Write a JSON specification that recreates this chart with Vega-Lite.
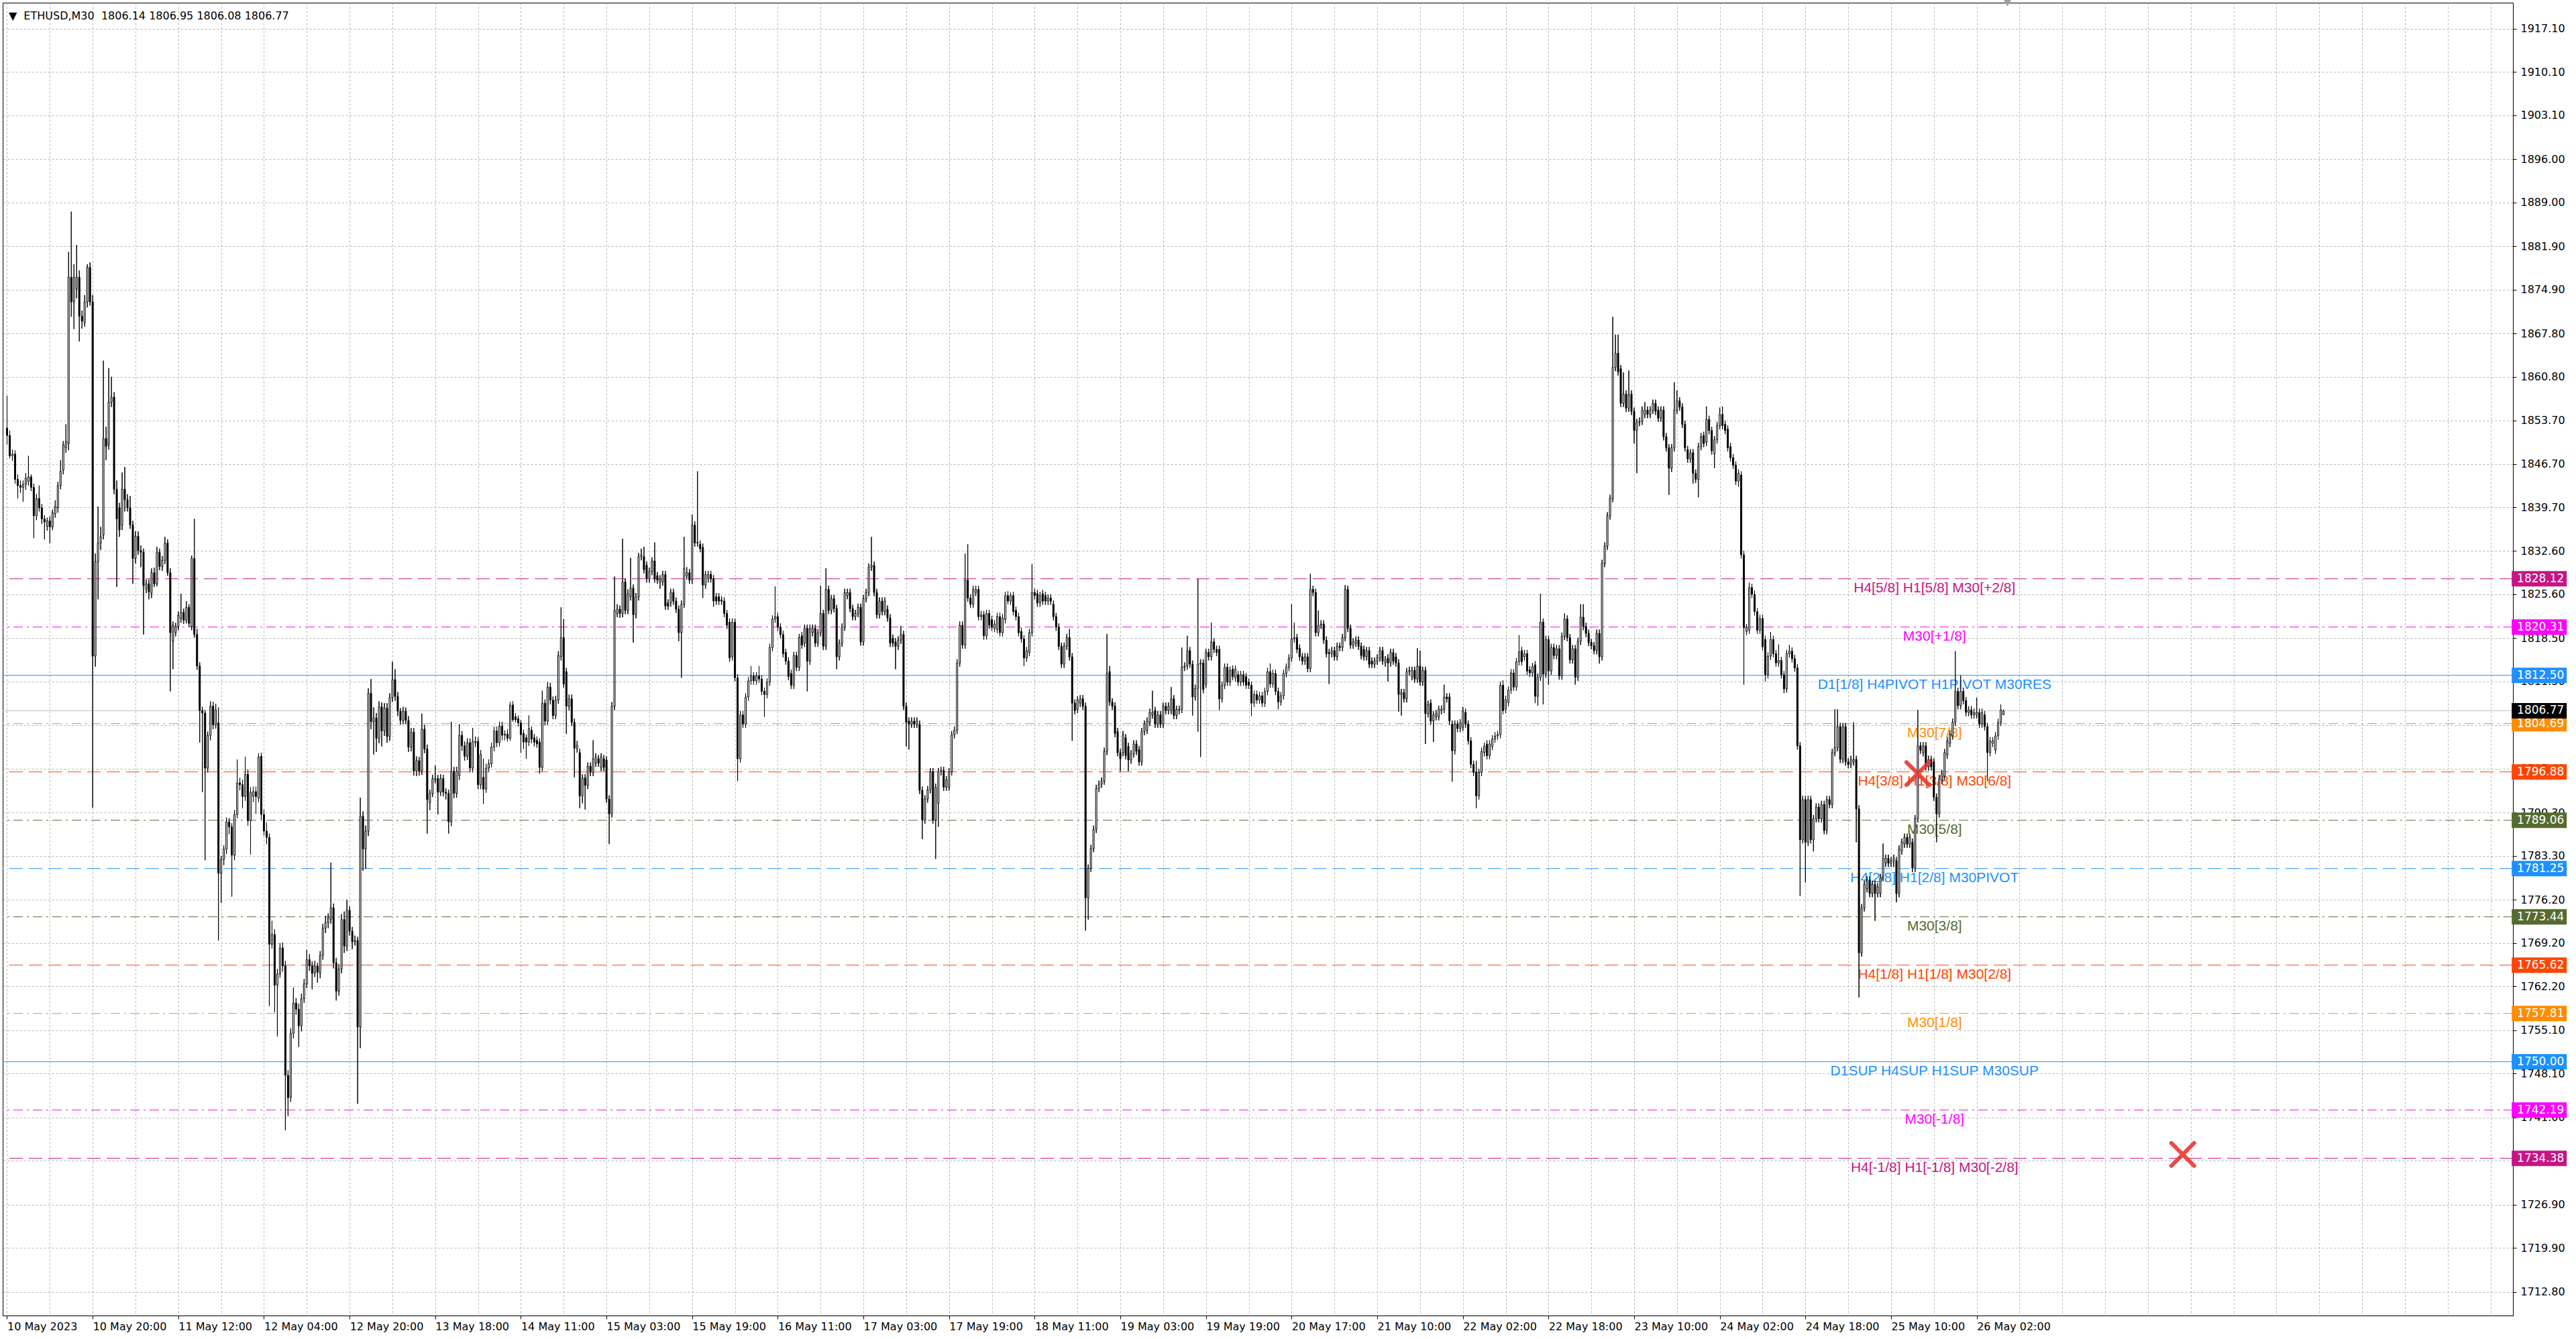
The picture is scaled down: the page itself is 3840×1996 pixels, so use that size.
{
"$schema":"https://vega.github.io/schema/vega-lite/v6.json",
"width":3742,"height":1957,
"autosize":{"type":"none"},
"padding":{"left":4,"top":4,"right":94,"bottom":35},
"background":"white",
"config":{"view":{"stroke":"black","strokeWidth":1},"font":"DejaVu Sans"},
"datasets":{
"bars":[
{"i":0,"o":1852.5,"h":1857.7,"l":1849.8,"c":1851.3},
{"i":1,"o":1851.3,"h":1852.1,"l":1847.6,"c":1848.0},
{"i":2,"o":1848.0,"h":1849.0,"l":1847.2,"c":1848.3},
{"i":3,"o":1848.3,"h":1848.9,"l":1843.5,"c":1844.2},
{"i":4,"o":1844.2,"h":1845.0,"l":1841.1,"c":1843.2},
{"i":5,"o":1843.2,"h":1844.0,"l":1842.0,"c":1842.9},
{"i":6,"o":1842.9,"h":1844.0,"l":1840.6,"c":1843.4},
{"i":7,"o":1843.4,"h":1845.2,"l":1842.5,"c":1844.4},
{"i":8,"o":1843.9,"h":1848.0,"l":1843.2,"c":1844.6},
{"i":9,"o":1844.6,"h":1845.0,"l":1842.3,"c":1842.9},
{"i":10,"o":1842.9,"h":1843.5,"l":1834.7,"c":1838.3},
{"i":11,"o":1838.3,"h":1841.8,"l":1837.6,"c":1841.1},
{"i":12,"o":1841.1,"h":1843.2,"l":1839.0,"c":1839.6},
{"i":13,"o":1839.6,"h":1840.2,"l":1837.0,"c":1837.8},
{"i":14,"o":1837.8,"h":1838.4,"l":1834.5,"c":1837.3},
{"i":15,"o":1836.6,"h":1838.0,"l":1835.9,"c":1837.5},
{"i":16,"o":1837.5,"h":1838.2,"l":1833.9,"c":1836.5},
{"i":17,"o":1836.5,"h":1839.3,"l":1836.0,"c":1838.8},
{"i":18,"o":1838.6,"h":1840.8,"l":1838.0,"c":1839.8},
{"i":19,"o":1839.6,"h":1843.8,"l":1838.8,"c":1843.2},
{"i":20,"o":1843.2,"h":1847.3,"l":1842.6,"c":1845.5},
{"i":21,"o":1845.7,"h":1850.4,"l":1845.0,"c":1849.8},
{"i":22,"o":1849.3,"h":1853.1,"l":1848.5,"c":1850.3},
{"i":23,"o":1850.0,"h":1881.0,"l":1848.9,"c":1876.9},
{"i":24,"o":1876.9,"h":1887.5,"l":1870.5,"c":1872.9},
{"i":25,"o":1872.9,"h":1879.0,"l":1868.5,"c":1876.9},
{"i":26,"o":1875.0,"h":1882.1,"l":1873.5,"c":1876.9},
{"i":27,"o":1876.9,"h":1878.0,"l":1866.5,"c":1870.6},
{"i":28,"o":1870.6,"h":1871.5,"l":1868.6,"c":1869.8},
{"i":29,"o":1869.5,"h":1874.0,"l":1868.9,"c":1872.9},
{"i":30,"o":1872.9,"h":1879.0,"l":1872.0,"c":1878.5},
{"i":31,"o":1878.5,"h":1879.3,"l":1872.3,"c":1872.9},
{"i":32,"o":1872.9,"h":1874.0,"l":1791.1,"c":1815.6},
{"i":33,"o":1815.6,"h":1832.2,"l":1813.9,"c":1830.9},
{"i":34,"o":1830.9,"h":1839.8,"l":1824.8,"c":1833.9},
{"i":35,"o":1833.9,"h":1836.5,"l":1832.8,"c":1834.9},
{"i":36,"o":1835.2,"h":1863.4,"l":1834.5,"c":1850.8},
{"i":37,"o":1850.8,"h":1852.7,"l":1847.3,"c":1849.5},
{"i":38,"o":1849.8,"h":1862.2,"l":1849.0,"c":1856.7},
{"i":39,"o":1856.7,"h":1860.8,"l":1855.9,"c":1857.5},
{"i":40,"o":1857.5,"h":1858.3,"l":1841.8,"c":1842.6},
{"i":41,"o":1842.6,"h":1844.0,"l":1826.8,"c":1837.8},
{"i":42,"o":1839.6,"h":1840.4,"l":1834.9,"c":1836.0},
{"i":43,"o":1836.8,"h":1845.3,"l":1836.0,"c":1842.6},
{"i":44,"o":1842.6,"h":1846.2,"l":1839.0,"c":1840.9},
{"i":45,"o":1840.9,"h":1841.8,"l":1839.0,"c":1839.6},
{"i":46,"o":1839.6,"h":1841.5,"l":1836.2,"c":1836.8},
{"i":47,"o":1836.8,"h":1837.5,"l":1827.3,"c":1831.4},
{"i":48,"o":1831.4,"h":1835.8,"l":1830.6,"c":1835.0},
{"i":49,"o":1835.0,"h":1835.8,"l":1832.0,"c":1832.7},
{"i":50,"o":1832.7,"h":1833.5,"l":1830.0,"c":1832.4},
{"i":51,"o":1832.4,"h":1833.0,"l":1819.1,"c":1827.0},
{"i":52,"o":1826.5,"h":1828.0,"l":1825.8,"c":1827.3},
{"i":53,"o":1827.3,"h":1828.0,"l":1824.8,"c":1826.0},
{"i":54,"o":1825.8,"h":1829.8,"l":1825.0,"c":1829.1},
{"i":55,"o":1829.1,"h":1829.9,"l":1826.8,"c":1827.3},
{"i":56,"o":1827.3,"h":1833.3,"l":1826.9,"c":1832.4},
{"i":57,"o":1832.4,"h":1833.0,"l":1829.5,"c":1830.1},
{"i":58,"o":1830.1,"h":1831.8,"l":1829.4,"c":1831.1},
{"i":59,"o":1831.1,"h":1834.9,"l":1830.5,"c":1833.9},
{"i":60,"o":1833.9,"h":1834.5,"l":1828.6,"c":1829.1},
{"i":61,"o":1829.1,"h":1829.8,"l":1809.9,"c":1819.4},
{"i":62,"o":1818.0,"h":1821.2,"l":1813.5,"c":1820.6},
{"i":63,"o":1819.4,"h":1821.0,"l":1818.8,"c":1820.4},
{"i":64,"o":1820.4,"h":1822.8,"l":1819.8,"c":1822.2},
{"i":65,"o":1821.7,"h":1825.7,"l":1821.0,"c":1822.7},
{"i":66,"o":1822.7,"h":1823.3,"l":1820.8,"c":1821.4},
{"i":67,"o":1821.4,"h":1824.5,"l":1820.9,"c":1823.5},
{"i":68,"o":1823.5,"h":1824.0,"l":1820.3,"c":1820.9},
{"i":69,"o":1820.4,"h":1831.9,"l":1819.8,"c":1831.4},
{"i":70,"o":1831.4,"h":1837.8,"l":1818.6,"c":1819.1},
{"i":71,"o":1819.1,"h":1820.0,"l":1813.4,"c":1814.0},
{"i":72,"o":1814.0,"h":1814.6,"l":1801.6,"c":1806.8},
{"i":73,"o":1806.8,"h":1807.4,"l":1793.6,"c":1806.4},
{"i":74,"o":1806.4,"h":1806.9,"l":1782.6,"c":1797.5},
{"i":75,"o":1797.5,"h":1803.4,"l":1796.8,"c":1802.8},
{"i":76,"o":1802.8,"h":1808.3,"l":1802.0,"c":1807.5},
{"i":77,"o":1807.5,"h":1808.2,"l":1803.8,"c":1804.5},
{"i":78,"o":1804.5,"h":1807.9,"l":1803.9,"c":1806.9},
{"i":79,"o":1804.8,"h":1807.3,"l":1769.6,"c":1780.5},
{"i":80,"o":1780.5,"h":1783.3,"l":1775.7,"c":1782.7},
{"i":81,"o":1782.7,"h":1785.0,"l":1781.8,"c":1784.4},
{"i":82,"o":1784.4,"h":1789.5,"l":1783.6,"c":1788.8},
{"i":83,"o":1788.8,"h":1789.4,"l":1786.8,"c":1788.0},
{"i":84,"o":1788.0,"h":1788.6,"l":1776.7,"c":1783.4},
{"i":85,"o":1783.4,"h":1790.7,"l":1782.6,"c":1790.0},
{"i":86,"o":1790.0,"h":1798.9,"l":1789.4,"c":1795.1},
{"i":87,"o":1795.1,"h":1795.9,"l":1793.9,"c":1794.8},
{"i":88,"o":1794.8,"h":1795.6,"l":1791.0,"c":1792.9},
{"i":89,"o":1792.9,"h":1799.3,"l":1792.2,"c":1796.5},
{"i":90,"o":1796.5,"h":1797.3,"l":1788.2,"c":1789.0},
{"i":91,"o":1789.0,"h":1794.4,"l":1783.5,"c":1793.6},
{"i":92,"o":1792.9,"h":1794.5,"l":1792.0,"c":1793.7},
{"i":93,"o":1793.7,"h":1794.5,"l":1790.1,"c":1792.9},
{"i":94,"o":1792.6,"h":1799.9,"l":1792.0,"c":1799.3},
{"i":95,"o":1799.4,"h":1800.0,"l":1789.2,"c":1790.0},
{"i":96,"o":1790.0,"h":1790.8,"l":1786.6,"c":1787.3},
{"i":97,"o":1787.3,"h":1788.7,"l":1785.2,"c":1786.3},
{"i":98,"o":1786.3,"h":1786.9,"l":1759.0,"c":1769.0},
{"i":99,"o":1769.0,"h":1772.8,"l":1768.3,"c":1770.6},
{"i":100,"o":1770.6,"h":1771.4,"l":1758.0,"c":1762.4},
{"i":101,"o":1762.4,"h":1765.0,"l":1754.1,"c":1764.2},
{"i":102,"o":1764.2,"h":1769.2,"l":1763.6,"c":1768.4},
{"i":103,"o":1768.4,"h":1769.3,"l":1764.6,"c":1765.5},
{"i":104,"o":1765.5,"h":1766.3,"l":1738.9,"c":1747.8},
{"i":105,"o":1747.8,"h":1748.6,"l":1741.2,"c":1744.2},
{"i":106,"o":1744.2,"h":1755.4,"l":1743.5,"c":1754.6},
{"i":107,"o":1754.6,"h":1762.0,"l":1753.8,"c":1759.5},
{"i":108,"o":1759.5,"h":1760.3,"l":1757.6,"c":1758.5},
{"i":109,"o":1758.5,"h":1759.4,"l":1752.4,"c":1755.8},
{"i":110,"o":1755.8,"h":1761.0,"l":1754.9,"c":1760.2},
{"i":111,"o":1760.2,"h":1763.4,"l":1759.5,"c":1762.6},
{"i":112,"o":1762.6,"h":1768.1,"l":1761.9,"c":1766.5},
{"i":113,"o":1766.5,"h":1767.4,"l":1764.7,"c":1765.5},
{"i":114,"o":1765.5,"h":1766.2,"l":1761.7,"c":1764.3},
{"i":115,"o":1764.3,"h":1766.3,"l":1763.7,"c":1765.5},
{"i":116,"o":1765.5,"h":1766.0,"l":1762.8,"c":1764.5},
{"i":117,"o":1764.3,"h":1767.9,"l":1763.5,"c":1767.2},
{"i":118,"o":1767.2,"h":1772.3,"l":1766.5,"c":1771.6},
{"i":119,"o":1771.6,"h":1773.6,"l":1770.8,"c":1772.5},
{"i":120,"o":1772.5,"h":1774.0,"l":1771.6,"c":1773.3},
{"i":121,"o":1773.0,"h":1782.2,"l":1772.3,"c":1774.9},
{"i":122,"o":1774.9,"h":1775.6,"l":1765.1,"c":1766.0},
{"i":123,"o":1766.0,"h":1766.8,"l":1759.9,"c":1761.4},
{"i":124,"o":1761.4,"h":1765.8,"l":1760.7,"c":1765.0},
{"i":125,"o":1765.0,"h":1773.9,"l":1764.3,"c":1773.0},
{"i":126,"o":1773.0,"h":1774.3,"l":1767.6,"c":1768.7},
{"i":127,"o":1768.7,"h":1776.2,"l":1767.9,"c":1774.5},
{"i":128,"o":1774.5,"h":1775.1,"l":1770.4,"c":1771.1},
{"i":129,"o":1771.1,"h":1771.8,"l":1768.2,"c":1769.4},
{"i":130,"o":1769.4,"h":1770.4,"l":1768.8,"c":1769.6},
{"i":131,"o":1769.6,"h":1770.2,"l":1743.2,"c":1755.6},
{"i":132,"o":1755.6,"h":1792.7,"l":1752.2,"c":1789.7},
{"i":133,"o":1789.7,"h":1790.5,"l":1780.9,"c":1784.4},
{"i":134,"o":1784.4,"h":1788.2,"l":1781.2,"c":1787.3},
{"i":135,"o":1787.3,"h":1810.4,"l":1786.5,"c":1809.6},
{"i":136,"o":1809.6,"h":1811.9,"l":1803.8,"c":1805.0},
{"i":137,"o":1805.0,"h":1807.3,"l":1799.7,"c":1805.6},
{"i":138,"o":1805.6,"h":1806.4,"l":1800.1,"c":1802.3},
{"i":139,"o":1802.3,"h":1808.3,"l":1801.5,"c":1807.4},
{"i":140,"o":1807.4,"h":1808.1,"l":1801.0,"c":1803.5},
{"i":141,"o":1803.5,"h":1808.0,"l":1802.7,"c":1807.2},
{"i":142,"o":1807.2,"h":1808.0,"l":1801.6,"c":1802.6},
{"i":143,"o":1802.6,"h":1809.6,"l":1801.9,"c":1808.9},
{"i":144,"o":1808.9,"h":1814.7,"l":1808.2,"c":1811.8},
{"i":145,"o":1811.8,"h":1813.5,"l":1808.4,"c":1809.1},
{"i":146,"o":1809.1,"h":1809.8,"l":1805.9,"c":1806.7},
{"i":147,"o":1806.7,"h":1807.2,"l":1804.5,"c":1805.2},
{"i":148,"o":1805.2,"h":1807.4,"l":1804.6,"c":1806.7},
{"i":149,"o":1806.7,"h":1807.3,"l":1804.6,"c":1805.2},
{"i":150,"o":1805.2,"h":1805.9,"l":1800.1,"c":1800.9},
{"i":151,"o":1800.9,"h":1804.0,"l":1800.2,"c":1803.3},
{"i":152,"o":1803.3,"h":1804.0,"l":1796.3,"c":1797.0},
{"i":153,"o":1797.0,"h":1799.4,"l":1796.2,"c":1798.7},
{"i":154,"o":1798.7,"h":1799.3,"l":1796.3,"c":1797.0},
{"i":155,"o":1797.0,"h":1806.3,"l":1796.4,"c":1803.8},
{"i":156,"o":1803.8,"h":1804.5,"l":1799.9,"c":1800.6},
{"i":157,"o":1800.6,"h":1801.3,"l":1786.9,"c":1792.4},
{"i":158,"o":1791.9,"h":1794.0,"l":1790.7,"c":1793.4},
{"i":159,"o":1793.4,"h":1796.4,"l":1792.8,"c":1795.8},
{"i":160,"o":1795.6,"h":1797.9,"l":1795.0,"c":1795.8},
{"i":161,"o":1795.8,"h":1796.4,"l":1790.0,"c":1793.6},
{"i":162,"o":1793.6,"h":1796.5,"l":1793.0,"c":1795.8},
{"i":163,"o":1795.8,"h":1796.4,"l":1792.9,"c":1793.6},
{"i":164,"o":1793.6,"h":1794.2,"l":1792.4,"c":1793.4},
{"i":165,"o":1793.4,"h":1794.0,"l":1786.9,"c":1788.8},
{"i":166,"o":1788.8,"h":1805.0,"l":1788.1,"c":1797.0},
{"i":167,"o":1797.0,"h":1797.7,"l":1792.6,"c":1793.4},
{"i":168,"o":1793.4,"h":1797.7,"l":1792.7,"c":1797.0},
{"i":169,"o":1796.3,"h":1804.6,"l":1795.6,"c":1802.8},
{"i":170,"o":1802.8,"h":1803.5,"l":1800.3,"c":1801.1},
{"i":171,"o":1801.1,"h":1801.8,"l":1798.7,"c":1799.4},
{"i":172,"o":1799.4,"h":1802.3,"l":1798.8,"c":1801.6},
{"i":173,"o":1801.6,"h":1802.3,"l":1796.8,"c":1797.5},
{"i":174,"o":1797.5,"h":1804.0,"l":1796.8,"c":1801.8},
{"i":175,"o":1801.6,"h":1802.6,"l":1800.9,"c":1801.8},
{"i":176,"o":1801.8,"h":1802.5,"l":1794.1,"c":1794.8},
{"i":177,"o":1794.8,"h":1800.4,"l":1794.1,"c":1799.7},
{"i":178,"o":1796.0,"h":1799.0,"l":1791.7,"c":1794.1},
{"i":179,"o":1794.1,"h":1798.2,"l":1793.5,"c":1797.5},
{"i":180,"o":1797.5,"h":1798.9,"l":1796.9,"c":1798.2},
{"i":181,"o":1798.2,"h":1801.6,"l":1797.6,"c":1800.9},
{"i":182,"o":1800.9,"h":1804.2,"l":1800.2,"c":1803.5},
{"i":183,"o":1803.5,"h":1804.2,"l":1800.9,"c":1801.6},
{"i":184,"o":1801.6,"h":1805.0,"l":1801.0,"c":1804.3},
{"i":185,"o":1804.3,"h":1805.0,"l":1802.0,"c":1802.8},
{"i":186,"o":1802.8,"h":1803.6,"l":1802.0,"c":1803.0},
{"i":187,"o":1803.0,"h":1803.8,"l":1801.8,"c":1802.3},
{"i":188,"o":1802.3,"h":1808.2,"l":1801.9,"c":1807.7},
{"i":189,"o":1807.7,"h":1808.3,"l":1805.0,"c":1805.3},
{"i":190,"o":1805.8,"h":1806.4,"l":1804.9,"c":1805.3},
{"i":191,"o":1805.5,"h":1806.0,"l":1804.2,"c":1804.8},
{"i":192,"o":1804.8,"h":1805.3,"l":1800.0,"c":1802.9},
{"i":193,"o":1803.1,"h":1803.7,"l":1800.6,"c":1801.7},
{"i":194,"o":1802.4,"h":1802.9,"l":1799.0,"c":1801.7},
{"i":195,"o":1801.7,"h":1806.0,"l":1801.1,"c":1803.9},
{"i":196,"o":1803.6,"h":1804.2,"l":1801.5,"c":1802.2},
{"i":197,"o":1802.4,"h":1803.0,"l":1801.0,"c":1801.7},
{"i":198,"o":1802.0,"h":1802.6,"l":1800.8,"c":1801.4},
{"i":199,"o":1801.7,"h":1802.3,"l":1796.6,"c":1797.6},
{"i":200,"o":1797.6,"h":1810.0,"l":1797.0,"c":1808.0},
{"i":201,"o":1808.0,"h":1808.6,"l":1804.4,"c":1805.1},
{"i":202,"o":1805.1,"h":1811.4,"l":1804.5,"c":1810.6},
{"i":203,"o":1810.6,"h":1811.3,"l":1807.8,"c":1808.5},
{"i":204,"o":1808.5,"h":1809.1,"l":1805.4,"c":1806.0},
{"i":205,"o":1806.0,"h":1809.2,"l":1805.4,"c":1808.5},
{"i":206,"o":1808.5,"h":1816.4,"l":1807.9,"c":1815.7},
{"i":207,"o":1815.5,"h":1823.5,"l":1814.9,"c":1818.6},
{"i":208,"o":1818.6,"h":1821.6,"l":1810.5,"c":1811.1},
{"i":209,"o":1813.1,"h":1813.7,"l":1803.0,"c":1807.5},
{"i":210,"o":1807.5,"h":1809.4,"l":1806.8,"c":1808.7},
{"i":211,"o":1808.7,"h":1809.4,"l":1804.3,"c":1804.9},
{"i":212,"o":1804.9,"h":1805.5,"l":1796.0,"c":1800.7},
{"i":213,"o":1800.7,"h":1801.9,"l":1800.0,"c":1801.2},
{"i":214,"o":1800.0,"h":1800.6,"l":1791.0,"c":1793.0},
{"i":215,"o":1793.0,"h":1796.5,"l":1791.8,"c":1795.9},
{"i":216,"o":1795.9,"h":1796.5,"l":1790.8,"c":1794.7},
{"i":217,"o":1794.7,"h":1798.4,"l":1794.1,"c":1797.8},
{"i":218,"o":1797.8,"h":1798.4,"l":1796.2,"c":1796.8},
{"i":219,"o":1796.8,"h":1802.0,"l":1796.2,"c":1799.0},
{"i":220,"o":1798.3,"h":1799.9,"l":1797.7,"c":1799.3},
{"i":221,"o":1799.0,"h":1799.6,"l":1797.7,"c":1798.3},
{"i":222,"o":1797.6,"h":1799.9,"l":1797.0,"c":1799.3},
{"i":223,"o":1799.0,"h":1799.6,"l":1797.0,"c":1797.6},
{"i":224,"o":1798.8,"h":1799.4,"l":1791.9,"c":1792.5},
{"i":225,"o":1792.5,"h":1793.1,"l":1785.2,"c":1790.1},
{"i":226,"o":1790.1,"h":1808.2,"l":1789.5,"c":1807.5},
{"i":227,"o":1807.5,"h":1828.5,"l":1806.9,"c":1823.0},
{"i":228,"o":1822.5,"h":1824.0,"l":1821.9,"c":1823.2},
{"i":229,"o":1823.2,"h":1823.8,"l":1821.8,"c":1822.5},
{"i":230,"o":1822.5,"h":1834.6,"l":1821.9,"c":1827.6},
{"i":231,"o":1827.6,"h":1828.2,"l":1822.4,"c":1823.0},
{"i":232,"o":1823.0,"h":1826.4,"l":1822.4,"c":1825.7},
{"i":233,"o":1825.2,"h":1831.5,"l":1824.6,"c":1826.6},
{"i":234,"o":1826.6,"h":1827.2,"l":1817.8,"c":1822.3},
{"i":235,"o":1822.3,"h":1825.8,"l":1821.7,"c":1825.2},
{"i":236,"o":1825.2,"h":1832.3,"l":1824.6,"c":1831.7},
{"i":237,"o":1831.7,"h":1833.0,"l":1831.1,"c":1832.0},
{"i":238,"o":1831.7,"h":1833.3,"l":1829.0,"c":1829.6},
{"i":239,"o":1830.3,"h":1830.9,"l":1827.5,"c":1828.1},
{"i":240,"o":1828.1,"h":1829.9,"l":1827.5,"c":1829.3},
{"i":241,"o":1829.3,"h":1831.6,"l":1828.7,"c":1831.0},
{"i":242,"o":1831.0,"h":1834.0,"l":1827.5,"c":1828.1},
{"i":243,"o":1828.6,"h":1829.2,"l":1827.3,"c":1827.9},
{"i":244,"o":1827.6,"h":1828.7,"l":1826.5,"c":1828.1},
{"i":245,"o":1827.6,"h":1829.4,"l":1827.0,"c":1828.8},
{"i":246,"o":1828.8,"h":1829.4,"l":1823.1,"c":1823.7},
{"i":247,"o":1824.2,"h":1824.8,"l":1823.1,"c":1823.7},
{"i":248,"o":1824.2,"h":1826.5,"l":1823.6,"c":1825.9},
{"i":249,"o":1825.9,"h":1826.5,"l":1823.9,"c":1824.5},
{"i":250,"o":1824.5,"h":1825.1,"l":1822.6,"c":1823.2},
{"i":251,"o":1823.2,"h":1823.8,"l":1818.0,"c":1819.4},
{"i":252,"o":1819.4,"h":1824.6,"l":1812.1,"c":1824.0},
{"i":253,"o":1824.0,"h":1834.9,"l":1823.4,"c":1829.8},
{"i":254,"o":1828.6,"h":1830.0,"l":1828.0,"c":1829.1},
{"i":255,"o":1829.1,"h":1829.7,"l":1827.3,"c":1827.9},
{"i":256,"o":1827.9,"h":1838.5,"l":1827.3,"c":1836.8},
{"i":257,"o":1836.8,"h":1837.4,"l":1833.3,"c":1833.9},
{"i":258,"o":1833.9,"h":1845.5,"l":1833.3,"c":1834.0},
{"i":259,"o":1833.7,"h":1834.3,"l":1832.4,"c":1833.0},
{"i":260,"o":1833.2,"h":1833.8,"l":1825.0,"c":1827.1},
{"i":261,"o":1827.1,"h":1829.4,"l":1826.5,"c":1828.8},
{"i":262,"o":1828.1,"h":1829.4,"l":1827.5,"c":1828.8},
{"i":263,"o":1828.8,"h":1829.4,"l":1827.5,"c":1828.1},
{"i":264,"o":1828.1,"h":1828.7,"l":1823.6,"c":1824.5},
{"i":265,"o":1825.2,"h":1825.8,"l":1823.9,"c":1824.5},
{"i":266,"o":1825.2,"h":1825.8,"l":1823.9,"c":1824.5},
{"i":267,"o":1824.7,"h":1825.3,"l":1823.9,"c":1824.5},
{"i":268,"o":1824.5,"h":1825.1,"l":1821.9,"c":1822.5},
{"i":269,"o":1822.5,"h":1823.1,"l":1820.0,"c":1820.6},
{"i":270,"o":1821.1,"h":1821.7,"l":1814.7,"c":1815.3},
{"i":271,"o":1815.5,"h":1821.7,"l":1814.9,"c":1821.1},
{"i":272,"o":1821.1,"h":1821.7,"l":1811.5,"c":1812.1},
{"i":273,"o":1812.1,"h":1812.7,"l":1795.4,"c":1799.0},
{"i":274,"o":1799.0,"h":1806.7,"l":1798.4,"c":1806.1},
{"i":275,"o":1806.1,"h":1806.7,"l":1804.0,"c":1804.6},
{"i":276,"o":1804.6,"h":1809.6,"l":1804.0,"c":1809.0},
{"i":277,"o":1809.0,"h":1812.2,"l":1808.4,"c":1811.6},
{"i":278,"o":1811.6,"h":1814.0,"l":1811.0,"c":1812.4},
{"i":279,"o":1812.4,"h":1813.0,"l":1811.0,"c":1811.6},
{"i":280,"o":1811.6,"h":1813.0,"l":1811.0,"c":1812.4},
{"i":281,"o":1812.4,"h":1814.0,"l":1811.3,"c":1811.9},
{"i":282,"o":1811.9,"h":1812.5,"l":1809.3,"c":1809.9},
{"i":283,"o":1809.9,"h":1810.5,"l":1805.8,"c":1809.4},
{"i":284,"o":1809.4,"h":1812.0,"l":1808.8,"c":1811.4},
{"i":285,"o":1811.4,"h":1817.6,"l":1810.8,"c":1817.0},
{"i":286,"o":1817.0,"h":1822.2,"l":1816.4,"c":1821.6},
{"i":287,"o":1821.6,"h":1826.9,"l":1821.0,"c":1822.0},
{"i":288,"o":1822.0,"h":1822.6,"l":1819.7,"c":1820.3},
{"i":289,"o":1820.3,"h":1820.9,"l":1818.5,"c":1819.1},
{"i":290,"o":1819.1,"h":1819.7,"l":1815.4,"c":1816.0},
{"i":291,"o":1816.2,"h":1816.8,"l":1814.2,"c":1814.8},
{"i":292,"o":1814.8,"h":1815.4,"l":1811.7,"c":1812.3},
{"i":293,"o":1812.8,"h":1813.4,"l":1810.3,"c":1810.9},
{"i":294,"o":1810.9,"h":1816.3,"l":1810.3,"c":1815.7},
{"i":295,"o":1815.7,"h":1816.3,"l":1813.2,"c":1813.8},
{"i":296,"o":1813.8,"h":1819.2,"l":1813.2,"c":1818.6},
{"i":297,"o":1818.9,"h":1819.5,"l":1816.8,"c":1817.4},
{"i":298,"o":1817.7,"h":1820.7,"l":1817.1,"c":1820.1},
{"i":299,"o":1820.1,"h":1820.7,"l":1809.9,"c":1814.8},
{"i":300,"o":1814.8,"h":1820.7,"l":1814.2,"c":1820.1},
{"i":301,"o":1819.4,"h":1820.7,"l":1818.8,"c":1820.1},
{"i":302,"o":1820.1,"h":1820.7,"l":1817.1,"c":1817.7},
{"i":303,"o":1817.7,"h":1820.0,"l":1817.1,"c":1819.4},
{"i":304,"o":1819.4,"h":1827.0,"l":1818.8,"c":1822.5},
{"i":305,"o":1822.5,"h":1823.1,"l":1816.6,"c":1817.2},
{"i":306,"o":1817.2,"h":1829.8,"l":1816.6,"c":1826.4},
{"i":307,"o":1826.4,"h":1827.0,"l":1822.4,"c":1823.0},
{"i":308,"o":1823.0,"h":1825.5,"l":1822.4,"c":1824.9},
{"i":309,"o":1824.9,"h":1825.5,"l":1822.7,"c":1823.3},
{"i":310,"o":1823.3,"h":1823.9,"l":1813.5,"c":1815.5},
{"i":311,"o":1815.5,"h":1818.3,"l":1814.9,"c":1817.7},
{"i":312,"o":1817.7,"h":1820.9,"l":1817.1,"c":1820.3},
{"i":313,"o":1820.3,"h":1826.5,"l":1819.7,"c":1825.9},
{"i":314,"o":1825.4,"h":1826.5,"l":1824.8,"c":1825.9},
{"i":315,"o":1825.9,"h":1826.5,"l":1822.7,"c":1823.3},
{"i":316,"o":1823.3,"h":1823.9,"l":1821.4,"c":1822.0},
{"i":317,"o":1822.0,"h":1823.1,"l":1821.4,"c":1822.5},
{"i":318,"o":1822.5,"h":1824.1,"l":1821.9,"c":1823.5},
{"i":319,"o":1823.5,"h":1824.1,"l":1817.3,"c":1817.9},
{"i":320,"o":1817.9,"h":1825.5,"l":1817.3,"c":1824.9},
{"i":321,"o":1824.9,"h":1826.5,"l":1824.3,"c":1825.9},
{"i":322,"o":1825.9,"h":1830.6,"l":1825.3,"c":1830.0},
{"i":323,"o":1830.0,"h":1834.9,"l":1829.4,"c":1830.3},
{"i":324,"o":1830.3,"h":1830.9,"l":1825.3,"c":1825.9},
{"i":325,"o":1825.9,"h":1826.5,"l":1821.7,"c":1822.3},
{"i":326,"o":1822.3,"h":1825.1,"l":1821.7,"c":1824.5},
{"i":327,"o":1824.5,"h":1825.1,"l":1822.2,"c":1822.8},
{"i":328,"o":1822.8,"h":1825.1,"l":1822.2,"c":1824.5},
{"i":329,"o":1823.2,"h":1823.8,"l":1821.2,"c":1821.8},
{"i":330,"o":1821.8,"h":1822.4,"l":1817.1,"c":1817.7},
{"i":331,"o":1818.5,"h":1819.1,"l":1817.1,"c":1817.7},
{"i":332,"o":1817.9,"h":1818.5,"l":1813.5,"c":1817.2},
{"i":333,"o":1817.2,"h":1818.8,"l":1816.6,"c":1818.2},
{"i":334,"o":1818.2,"h":1820.5,"l":1817.6,"c":1819.1},
{"i":335,"o":1819.1,"h":1819.7,"l":1806.9,"c":1807.5},
{"i":336,"o":1807.5,"h":1808.1,"l":1801.0,"c":1804.9},
{"i":337,"o":1805.1,"h":1805.7,"l":1800.5,"c":1804.6},
{"i":338,"o":1804.6,"h":1805.7,"l":1804.0,"c":1805.1},
{"i":339,"o":1805.1,"h":1805.7,"l":1804.0,"c":1804.6},
{"i":340,"o":1804.6,"h":1805.7,"l":1804.0,"c":1805.1},
{"i":341,"o":1804.6,"h":1805.2,"l":1793.3,"c":1793.9},
{"i":342,"o":1793.9,"h":1794.5,"l":1786.0,"c":1789.1},
{"i":343,"o":1789.1,"h":1793.1,"l":1788.5,"c":1792.5},
{"i":344,"o":1792.5,"h":1794.6,"l":1791.9,"c":1794.0},
{"i":345,"o":1794.0,"h":1797.5,"l":1793.4,"c":1796.9},
{"i":346,"o":1796.9,"h":1797.5,"l":1788.5,"c":1789.1},
{"i":347,"o":1789.1,"h":1795.0,"l":1782.8,"c":1794.4},
{"i":348,"o":1791.8,"h":1797.5,"l":1788.0,"c":1796.9},
{"i":349,"o":1796.9,"h":1797.7,"l":1796.3,"c":1797.1},
{"i":350,"o":1797.1,"h":1797.7,"l":1793.8,"c":1794.4},
{"i":351,"o":1794.4,"h":1796.2,"l":1793.8,"c":1795.6},
{"i":352,"o":1794.4,"h":1797.5,"l":1793.8,"c":1796.9},
{"i":353,"o":1796.9,"h":1803.5,"l":1796.3,"c":1802.9},
{"i":354,"o":1802.9,"h":1804.2,"l":1802.3,"c":1803.6},
{"i":355,"o":1803.6,"h":1815.1,"l":1803.0,"c":1814.5},
{"i":356,"o":1814.5,"h":1821.2,"l":1813.9,"c":1820.6},
{"i":357,"o":1820.6,"h":1821.2,"l":1816.8,"c":1817.4},
{"i":358,"o":1817.4,"h":1832.2,"l":1816.8,"c":1827.9},
{"i":359,"o":1827.9,"h":1833.7,"l":1824.4,"c":1825.0},
{"i":360,"o":1825.0,"h":1825.6,"l":1823.4,"c":1824.0},
{"i":361,"o":1824.0,"h":1827.0,"l":1823.4,"c":1826.4},
{"i":362,"o":1825.9,"h":1827.0,"l":1825.3,"c":1826.4},
{"i":363,"o":1826.4,"h":1827.0,"l":1821.4,"c":1822.0},
{"i":364,"o":1822.0,"h":1822.9,"l":1821.4,"c":1822.3},
{"i":365,"o":1822.3,"h":1822.9,"l":1818.3,"c":1818.9},
{"i":366,"o":1818.9,"h":1823.1,"l":1818.3,"c":1822.5},
{"i":367,"o":1822.5,"h":1823.1,"l":1820.0,"c":1820.6},
{"i":368,"o":1821.5,"h":1822.1,"l":1819.7,"c":1820.3},
{"i":369,"o":1820.1,"h":1821.4,"l":1819.5,"c":1820.8},
{"i":370,"o":1819.9,"h":1822.6,"l":1819.3,"c":1822.0},
{"i":371,"o":1822.0,"h":1822.6,"l":1818.8,"c":1819.4},
{"i":372,"o":1819.4,"h":1822.4,"l":1818.8,"c":1821.8},
{"i":373,"o":1821.5,"h":1826.0,"l":1820.9,"c":1825.4},
{"i":374,"o":1825.4,"h":1826.1,"l":1824.0,"c":1824.5},
{"i":375,"o":1824.5,"h":1825.9,"l":1823.9,"c":1825.4},
{"i":376,"o":1825.4,"h":1826.0,"l":1822.2,"c":1822.8},
{"i":377,"o":1823.0,"h":1823.6,"l":1821.4,"c":1822.0},
{"i":378,"o":1822.0,"h":1822.6,"l":1818.8,"c":1819.4},
{"i":379,"o":1819.6,"h":1820.2,"l":1817.8,"c":1818.4},
{"i":380,"o":1818.4,"h":1819.0,"l":1814.0,"c":1815.3},
{"i":381,"o":1815.3,"h":1817.1,"l":1814.7,"c":1816.5},
{"i":382,"o":1816.2,"h":1820.0,"l":1815.6,"c":1819.4},
{"i":383,"o":1819.4,"h":1830.5,"l":1818.8,"c":1825.9},
{"i":384,"o":1825.9,"h":1826.5,"l":1824.8,"c":1825.4},
{"i":385,"o":1825.7,"h":1826.3,"l":1823.6,"c":1824.2},
{"i":386,"o":1824.2,"h":1826.0,"l":1823.6,"c":1825.4},
{"i":387,"o":1825.7,"h":1826.3,"l":1823.9,"c":1824.5},
{"i":388,"o":1825.4,"h":1826.0,"l":1823.9,"c":1824.5},
{"i":389,"o":1824.5,"h":1825.6,"l":1823.9,"c":1825.0},
{"i":390,"o":1825.0,"h":1825.6,"l":1823.9,"c":1824.5},
{"i":391,"o":1824.0,"h":1824.6,"l":1821.4,"c":1822.0},
{"i":392,"o":1822.0,"h":1822.6,"l":1819.7,"c":1820.3},
{"i":393,"o":1820.3,"h":1820.9,"l":1816.6,"c":1817.2},
{"i":394,"o":1817.2,"h":1817.8,"l":1813.7,"c":1814.3},
{"i":395,"o":1814.3,"h":1817.8,"l":1813.7,"c":1817.2},
{"i":396,"o":1817.2,"h":1819.2,"l":1816.6,"c":1818.6},
{"i":397,"o":1818.6,"h":1820.0,"l":1814.9,"c":1815.5},
{"i":398,"o":1815.5,"h":1816.1,"l":1801.9,"c":1808.0},
{"i":399,"o":1808.0,"h":1808.6,"l":1806.2,"c":1806.8},
{"i":400,"o":1807.0,"h":1809.1,"l":1806.4,"c":1808.5},
{"i":401,"o":1808.0,"h":1809.3,"l":1807.4,"c":1808.7},
{"i":402,"o":1808.7,"h":1809.3,"l":1806.9,"c":1807.5},
{"i":403,"o":1807.5,"h":1808.1,"l":1771.2,"c":1776.5},
{"i":404,"o":1776.5,"h":1781.9,"l":1773.0,"c":1781.3},
{"i":405,"o":1781.3,"h":1785.1,"l":1780.7,"c":1784.5},
{"i":406,"o":1784.5,"h":1788.2,"l":1783.9,"c":1787.6},
{"i":407,"o":1787.6,"h":1794.8,"l":1787.0,"c":1794.2},
{"i":408,"o":1794.2,"h":1795.5,"l":1793.6,"c":1794.9},
{"i":409,"o":1794.9,"h":1796.0,"l":1794.3,"c":1795.4},
{"i":410,"o":1795.4,"h":1800.8,"l":1794.8,"c":1800.2},
{"i":411,"o":1800.2,"h":1819.2,"l":1799.6,"c":1812.8},
{"i":412,"o":1813.1,"h":1814.0,"l":1807.6,"c":1808.2},
{"i":413,"o":1808.2,"h":1808.8,"l":1806.9,"c":1807.5},
{"i":414,"o":1807.5,"h":1808.1,"l":1802.5,"c":1803.1},
{"i":415,"o":1803.4,"h":1804.0,"l":1799.4,"c":1800.0},
{"i":416,"o":1800.0,"h":1800.6,"l":1797.0,"c":1799.0},
{"i":417,"o":1800.0,"h":1803.5,"l":1799.4,"c":1802.9},
{"i":418,"o":1802.4,"h":1803.0,"l":1798.9,"c":1799.5},
{"i":419,"o":1801.0,"h":1801.6,"l":1797.0,"c":1798.8},
{"i":420,"o":1798.8,"h":1800.4,"l":1798.2,"c":1799.8},
{"i":421,"o":1799.8,"h":1802.0,"l":1799.2,"c":1801.4},
{"i":422,"o":1801.4,"h":1802.0,"l":1799.6,"c":1800.2},
{"i":423,"o":1800.5,"h":1801.1,"l":1797.9,"c":1798.5},
{"i":424,"o":1798.5,"h":1804.0,"l":1797.9,"c":1803.4},
{"i":425,"o":1803.4,"h":1805.2,"l":1802.8,"c":1804.6},
{"i":426,"o":1803.6,"h":1805.7,"l":1803.0,"c":1805.1},
{"i":427,"o":1804.9,"h":1807.1,"l":1804.3,"c":1806.5},
{"i":428,"o":1806.1,"h":1810.0,"l":1805.5,"c":1806.5},
{"i":429,"o":1806.8,"h":1807.4,"l":1804.0,"c":1804.6},
{"i":430,"o":1804.6,"h":1806.7,"l":1804.0,"c":1806.1},
{"i":431,"o":1806.1,"h":1806.7,"l":1804.0,"c":1804.6},
{"i":432,"o":1804.6,"h":1808.1,"l":1804.0,"c":1807.5},
{"i":433,"o":1807.5,"h":1808.1,"l":1806.2,"c":1806.8},
{"i":434,"o":1806.8,"h":1808.1,"l":1806.2,"c":1807.5},
{"i":435,"o":1806.8,"h":1810.6,"l":1806.2,"c":1808.7},
{"i":436,"o":1808.7,"h":1809.3,"l":1805.4,"c":1806.0},
{"i":437,"o":1806.0,"h":1807.6,"l":1805.4,"c":1807.0},
{"i":438,"o":1806.8,"h":1807.6,"l":1806.2,"c":1807.0},
{"i":439,"o":1807.0,"h":1817.0,"l":1806.4,"c":1813.8},
{"i":440,"o":1813.8,"h":1814.6,"l":1813.2,"c":1814.0},
{"i":441,"o":1814.0,"h":1818.9,"l":1813.4,"c":1816.5},
{"i":442,"o":1816.5,"h":1817.1,"l":1813.7,"c":1814.3},
{"i":443,"o":1814.3,"h":1814.9,"l":1806.0,"c":1809.0},
{"i":444,"o":1809.0,"h":1811.0,"l":1808.4,"c":1810.4},
{"i":445,"o":1810.4,"h":1828.1,"l":1803.4,"c":1814.3},
{"i":446,"o":1814.3,"h":1815.1,"l":1799.3,"c":1814.5},
{"i":447,"o":1814.5,"h":1815.1,"l":1809.6,"c":1810.2},
{"i":448,"o":1811.1,"h":1816.8,"l":1810.5,"c":1816.2},
{"i":449,"o":1816.2,"h":1816.8,"l":1814.9,"c":1815.5},
{"i":450,"o":1815.5,"h":1821.0,"l":1814.9,"c":1817.9},
{"i":451,"o":1817.9,"h":1818.5,"l":1816.1,"c":1816.7},
{"i":452,"o":1816.7,"h":1817.3,"l":1815.6,"c":1816.2},
{"i":453,"o":1816.7,"h":1817.3,"l":1806.9,"c":1808.7},
{"i":454,"o":1808.7,"h":1811.5,"l":1808.1,"c":1810.9},
{"i":455,"o":1810.9,"h":1814.4,"l":1810.3,"c":1813.8},
{"i":456,"o":1813.8,"h":1814.4,"l":1810.8,"c":1811.4},
{"i":457,"o":1811.4,"h":1813.9,"l":1810.8,"c":1813.3},
{"i":458,"o":1813.5,"h":1814.1,"l":1811.7,"c":1812.3},
{"i":459,"o":1812.1,"h":1814.1,"l":1811.5,"c":1813.5},
{"i":460,"o":1812.6,"h":1813.2,"l":1810.8,"c":1811.4},
{"i":461,"o":1811.4,"h":1813.2,"l":1810.8,"c":1812.6},
{"i":462,"o":1812.6,"h":1813.2,"l":1810.8,"c":1811.4},
{"i":463,"o":1812.3,"h":1812.9,"l":1810.3,"c":1810.9},
{"i":464,"o":1811.4,"h":1812.0,"l":1810.3,"c":1810.9},
{"i":465,"o":1810.9,"h":1811.5,"l":1805.9,"c":1808.0},
{"i":466,"o":1808.0,"h":1810.0,"l":1807.4,"c":1809.4},
{"i":467,"o":1809.4,"h":1810.0,"l":1807.9,"c":1808.5},
{"i":468,"o":1808.5,"h":1809.8,"l":1807.9,"c":1809.2},
{"i":469,"o":1809.2,"h":1809.8,"l":1807.4,"c":1808.0},
{"i":470,"o":1808.0,"h":1810.5,"l":1807.4,"c":1809.9},
{"i":471,"o":1809.9,"h":1813.7,"l":1809.3,"c":1813.1},
{"i":472,"o":1813.1,"h":1814.4,"l":1810.5,"c":1811.1},
{"i":473,"o":1811.1,"h":1813.4,"l":1810.5,"c":1812.8},
{"i":474,"o":1812.8,"h":1813.4,"l":1809.3,"c":1809.9},
{"i":475,"o":1809.9,"h":1810.5,"l":1807.0,"c":1808.2},
{"i":476,"o":1808.2,"h":1809.8,"l":1807.6,"c":1809.2},
{"i":477,"o":1809.2,"h":1813.4,"l":1808.6,"c":1812.8},
{"i":478,"o":1812.8,"h":1814.4,"l":1812.2,"c":1813.8},
{"i":479,"o":1813.8,"h":1815.9,"l":1813.2,"c":1815.3},
{"i":480,"o":1815.3,"h":1824.0,"l":1814.7,"c":1818.4},
{"i":481,"o":1818.4,"h":1821.0,"l":1817.8,"c":1818.6},
{"i":482,"o":1818.6,"h":1819.2,"l":1816.1,"c":1816.7},
{"i":483,"o":1816.9,"h":1817.5,"l":1814.9,"c":1815.5},
{"i":484,"o":1815.5,"h":1816.1,"l":1814.2,"c":1814.8},
{"i":485,"o":1814.8,"h":1816.1,"l":1814.2,"c":1815.5},
{"i":486,"o":1815.5,"h":1816.1,"l":1813.0,"c":1813.6},
{"i":487,"o":1813.6,"h":1828.9,"l":1813.0,"c":1826.4},
{"i":488,"o":1826.4,"h":1827.0,"l":1825.3,"c":1825.9},
{"i":489,"o":1825.9,"h":1826.5,"l":1818.8,"c":1819.4},
{"i":490,"o":1819.4,"h":1823.0,"l":1818.8,"c":1820.6},
{"i":491,"o":1820.6,"h":1821.4,"l":1820.0,"c":1820.8},
{"i":492,"o":1820.8,"h":1821.4,"l":1817.6,"c":1818.2},
{"i":493,"o":1818.2,"h":1818.8,"l":1815.4,"c":1816.0},
{"i":494,"o":1816.2,"h":1816.8,"l":1811.1,"c":1816.0},
{"i":495,"o":1816.0,"h":1817.1,"l":1815.4,"c":1816.5},
{"i":496,"o":1816.5,"h":1817.1,"l":1814.9,"c":1815.5},
{"i":497,"o":1815.5,"h":1817.8,"l":1814.9,"c":1817.2},
{"i":498,"o":1817.2,"h":1817.8,"l":1816.4,"c":1817.0},
{"i":499,"o":1817.0,"h":1819.2,"l":1816.4,"c":1818.6},
{"i":500,"o":1818.6,"h":1827.1,"l":1818.0,"c":1826.4},
{"i":501,"o":1826.4,"h":1827.0,"l":1819.5,"c":1820.1},
{"i":502,"o":1820.1,"h":1820.7,"l":1816.8,"c":1817.4},
{"i":503,"o":1817.4,"h":1818.5,"l":1816.8,"c":1817.9},
{"i":504,"o":1817.7,"h":1818.8,"l":1817.1,"c":1818.2},
{"i":505,"o":1818.2,"h":1818.8,"l":1816.6,"c":1817.2},
{"i":506,"o":1817.2,"h":1817.8,"l":1815.1,"c":1815.7},
{"i":507,"o":1816.7,"h":1817.3,"l":1814.9,"c":1815.5},
{"i":508,"o":1815.5,"h":1817.1,"l":1814.9,"c":1816.5},
{"i":509,"o":1816.5,"h":1817.1,"l":1813.7,"c":1814.3},
{"i":510,"o":1814.8,"h":1815.4,"l":1813.7,"c":1814.3},
{"i":511,"o":1814.3,"h":1815.4,"l":1813.7,"c":1814.8},
{"i":512,"o":1814.8,"h":1815.9,"l":1814.2,"c":1815.3},
{"i":513,"o":1815.3,"h":1817.1,"l":1814.7,"c":1816.5},
{"i":514,"o":1816.5,"h":1817.1,"l":1814.2,"c":1814.8},
{"i":515,"o":1814.5,"h":1815.6,"l":1813.9,"c":1815.0},
{"i":516,"o":1815.3,"h":1815.9,"l":1811.5,"c":1814.5},
{"i":517,"o":1814.5,"h":1816.8,"l":1813.9,"c":1816.2},
{"i":518,"o":1816.2,"h":1816.8,"l":1814.2,"c":1814.8},
{"i":519,"o":1815.5,"h":1816.1,"l":1813.9,"c":1814.5},
{"i":520,"o":1814.5,"h":1815.1,"l":1806.6,"c":1809.4},
{"i":521,"o":1809.4,"h":1810.3,"l":1806.0,"c":1809.7},
{"i":522,"o":1809.7,"h":1810.3,"l":1808.1,"c":1808.7},
{"i":523,"o":1808.7,"h":1813.7,"l":1808.1,"c":1813.1},
{"i":524,"o":1813.1,"h":1813.9,"l":1812.5,"c":1813.3},
{"i":525,"o":1812.3,"h":1813.9,"l":1811.7,"c":1813.3},
{"i":526,"o":1813.3,"h":1813.9,"l":1811.3,"c":1811.9},
{"i":527,"o":1811.9,"h":1816.9,"l":1811.3,"c":1814.0},
{"i":528,"o":1814.0,"h":1816.5,"l":1810.8,"c":1811.4},
{"i":529,"o":1811.4,"h":1813.9,"l":1810.8,"c":1813.3},
{"i":530,"o":1813.3,"h":1813.9,"l":1801.4,"c":1806.3},
{"i":531,"o":1806.3,"h":1808.4,"l":1805.7,"c":1807.8},
{"i":532,"o":1808.0,"h":1808.6,"l":1804.5,"c":1805.1},
{"i":533,"o":1805.1,"h":1806.7,"l":1801.7,"c":1806.1},
{"i":534,"o":1805.8,"h":1806.9,"l":1805.2,"c":1806.3},
{"i":535,"o":1805.8,"h":1807.6,"l":1805.2,"c":1807.0},
{"i":536,"o":1806.8,"h":1807.6,"l":1806.2,"c":1807.0},
{"i":537,"o":1807.0,"h":1811.0,"l":1806.4,"c":1809.0},
{"i":538,"o":1809.0,"h":1809.6,"l":1808.1,"c":1808.7},
{"i":539,"o":1809.0,"h":1809.6,"l":1804.5,"c":1805.1},
{"i":540,"o":1804.6,"h":1805.2,"l":1795.3,"c":1800.3},
{"i":541,"o":1800.3,"h":1805.2,"l":1799.7,"c":1804.6},
{"i":542,"o":1804.6,"h":1805.2,"l":1803.3,"c":1803.9},
{"i":543,"o":1803.9,"h":1805.4,"l":1803.3,"c":1804.8},
{"i":544,"o":1804.1,"h":1807.4,"l":1803.5,"c":1806.8},
{"i":545,"o":1806.5,"h":1807.1,"l":1804.0,"c":1804.6},
{"i":546,"o":1804.6,"h":1805.2,"l":1801.3,"c":1801.9},
{"i":547,"o":1801.9,"h":1802.5,"l":1797.5,"c":1798.1},
{"i":548,"o":1798.1,"h":1798.7,"l":1796.2,"c":1796.8},
{"i":549,"o":1796.8,"h":1798.7,"l":1791.0,"c":1793.0},
{"i":550,"o":1793.0,"h":1797.4,"l":1792.4,"c":1796.8},
{"i":551,"o":1796.8,"h":1800.8,"l":1796.2,"c":1800.2},
{"i":552,"o":1800.0,"h":1801.6,"l":1799.4,"c":1801.0},
{"i":553,"o":1801.4,"h":1802.0,"l":1798.9,"c":1799.5},
{"i":554,"o":1799.5,"h":1802.0,"l":1798.9,"c":1801.4},
{"i":555,"o":1801.0,"h":1802.8,"l":1800.4,"c":1802.2},
{"i":556,"o":1802.2,"h":1803.3,"l":1801.6,"c":1802.7},
{"i":557,"o":1802.7,"h":1803.5,"l":1802.1,"c":1802.9},
{"i":558,"o":1802.9,"h":1811.5,"l":1802.3,"c":1810.9},
{"i":559,"o":1810.9,"h":1811.7,"l":1806.2,"c":1806.8},
{"i":560,"o":1807.0,"h":1809.2,"l":1806.4,"c":1808.6},
{"i":561,"o":1808.1,"h":1810.7,"l":1807.5,"c":1810.1},
{"i":562,"o":1810.1,"h":1813.5,"l":1809.5,"c":1812.9},
{"i":563,"o":1812.9,"h":1813.5,"l":1810.0,"c":1810.6},
{"i":564,"o":1810.6,"h":1815.3,"l":1810.0,"c":1814.7},
{"i":565,"o":1814.7,"h":1819.0,"l":1814.1,"c":1816.3},
{"i":566,"o":1816.5,"h":1817.1,"l":1814.1,"c":1814.7},
{"i":567,"o":1815.5,"h":1816.6,"l":1814.9,"c":1816.0},
{"i":568,"o":1816.0,"h":1816.6,"l":1812.6,"c":1813.2},
{"i":569,"o":1813.4,"h":1814.0,"l":1812.3,"c":1812.9},
{"i":570,"o":1812.9,"h":1814.5,"l":1812.3,"c":1813.9},
{"i":571,"o":1814.2,"h":1814.8,"l":1808.0,"c":1809.1},
{"i":572,"o":1809.1,"h":1812.8,"l":1807.6,"c":1812.2},
{"i":573,"o":1812.2,"h":1825.7,"l":1811.6,"c":1821.1},
{"i":574,"o":1821.1,"h":1821.7,"l":1807.8,"c":1812.7},
{"i":575,"o":1812.7,"h":1818.9,"l":1812.1,"c":1818.3},
{"i":576,"o":1818.3,"h":1818.9,"l":1811.0,"c":1813.2},
{"i":577,"o":1813.2,"h":1817.6,"l":1812.6,"c":1817.0},
{"i":578,"o":1817.0,"h":1817.6,"l":1815.1,"c":1815.7},
{"i":579,"o":1815.7,"h":1817.4,"l":1815.1,"c":1816.8},
{"i":580,"o":1816.8,"h":1817.4,"l":1811.8,"c":1812.4},
{"i":581,"o":1812.4,"h":1819.4,"l":1811.8,"c":1818.8},
{"i":582,"o":1818.8,"h":1822.5,"l":1818.2,"c":1821.6},
{"i":583,"o":1821.6,"h":1822.2,"l":1818.0,"c":1818.6},
{"i":584,"o":1818.6,"h":1819.2,"l":1814.4,"c":1815.0},
{"i":585,"o":1815.0,"h":1817.4,"l":1814.4,"c":1816.8},
{"i":586,"o":1816.8,"h":1817.4,"l":1811.0,"c":1812.2},
{"i":587,"o":1812.2,"h":1818.6,"l":1811.6,"c":1818.0},
{"i":588,"o":1818.0,"h":1824.0,"l":1817.4,"c":1821.9},
{"i":589,"o":1821.9,"h":1824.0,"l":1819.8,"c":1820.4},
{"i":590,"o":1820.4,"h":1821.0,"l":1818.7,"c":1819.3},
{"i":591,"o":1819.3,"h":1819.9,"l":1817.2,"c":1817.8},
{"i":592,"o":1817.8,"h":1818.4,"l":1816.7,"c":1817.3},
{"i":593,"o":1817.3,"h":1817.9,"l":1815.9,"c":1816.5},
{"i":594,"o":1816.5,"h":1819.9,"l":1815.9,"c":1819.3},
{"i":595,"o":1819.3,"h":1819.9,"l":1814.4,"c":1815.5},
{"i":596,"o":1815.5,"h":1831.2,"l":1814.9,"c":1830.6},
{"i":597,"o":1830.6,"h":1834.0,"l":1830.0,"c":1833.4},
{"i":598,"o":1833.4,"h":1838.9,"l":1832.8,"c":1838.3},
{"i":599,"o":1838.3,"h":1841.7,"l":1837.7,"c":1841.1},
{"i":600,"o":1841.1,"h":1870.5,"l":1840.5,"c":1862.3},
{"i":601,"o":1862.3,"h":1867.6,"l":1861.7,"c":1864.6},
{"i":602,"o":1864.6,"h":1867.6,"l":1861.0,"c":1861.6},
{"i":603,"o":1862.1,"h":1862.7,"l":1855.9,"c":1856.5},
{"i":604,"o":1856.5,"h":1861.5,"l":1855.9,"c":1858.0},
{"i":605,"o":1858.0,"h":1858.6,"l":1855.1,"c":1855.7},
{"i":606,"o":1855.7,"h":1861.8,"l":1855.1,"c":1857.9},
{"i":607,"o":1858.0,"h":1858.6,"l":1854.6,"c":1855.2},
{"i":608,"o":1855.2,"h":1855.8,"l":1850.0,"c":1852.1},
{"i":609,"o":1852.1,"h":1854.0,"l":1845.2,"c":1853.4},
{"i":610,"o":1853.4,"h":1854.2,"l":1852.8,"c":1853.6},
{"i":611,"o":1853.6,"h":1856.0,"l":1853.0,"c":1855.4},
{"i":612,"o":1854.7,"h":1856.7,"l":1854.1,"c":1855.4},
{"i":613,"o":1855.4,"h":1856.0,"l":1854.1,"c":1854.7},
{"i":614,"o":1854.7,"h":1856.0,"l":1854.1,"c":1855.4},
{"i":615,"o":1855.4,"h":1857.1,"l":1854.8,"c":1856.5},
{"i":616,"o":1856.5,"h":1857.1,"l":1854.6,"c":1855.2},
{"i":617,"o":1855.4,"h":1856.0,"l":1853.5,"c":1854.1},
{"i":618,"o":1854.1,"h":1856.0,"l":1853.5,"c":1855.4},
{"i":619,"o":1855.4,"h":1856.0,"l":1850.5,"c":1851.1},
{"i":620,"o":1851.1,"h":1851.7,"l":1848.7,"c":1849.3},
{"i":621,"o":1849.3,"h":1849.9,"l":1841.7,"c":1846.0},
{"i":622,"o":1846.0,"h":1849.9,"l":1845.4,"c":1849.3},
{"i":623,"o":1849.3,"h":1859.9,"l":1848.7,"c":1855.4},
{"i":624,"o":1855.4,"h":1858.6,"l":1854.8,"c":1856.9},
{"i":625,"o":1856.9,"h":1857.5,"l":1855.3,"c":1855.9},
{"i":626,"o":1855.9,"h":1856.5,"l":1852.5,"c":1853.1},
{"i":627,"o":1853.1,"h":1853.7,"l":1848.7,"c":1849.3},
{"i":628,"o":1849.0,"h":1849.6,"l":1846.9,"c":1847.5},
{"i":629,"o":1847.5,"h":1849.1,"l":1846.9,"c":1848.5},
{"i":630,"o":1848.5,"h":1849.1,"l":1843.5,"c":1845.2},
{"i":631,"o":1845.2,"h":1845.8,"l":1843.6,"c":1844.2},
{"i":632,"o":1844.2,"h":1850.1,"l":1841.3,"c":1849.5},
{"i":633,"o":1849.5,"h":1851.7,"l":1848.9,"c":1851.1},
{"i":634,"o":1851.3,"h":1851.9,"l":1849.4,"c":1850.0},
{"i":635,"o":1850.2,"h":1856.0,"l":1849.6,"c":1853.9},
{"i":636,"o":1853.9,"h":1854.5,"l":1851.5,"c":1852.1},
{"i":637,"o":1852.1,"h":1852.7,"l":1848.2,"c":1848.8},
{"i":638,"o":1848.3,"h":1851.2,"l":1846.0,"c":1850.6},
{"i":639,"o":1850.6,"h":1853.5,"l":1850.0,"c":1852.9},
{"i":640,"o":1852.9,"h":1855.8,"l":1852.3,"c":1854.7},
{"i":641,"o":1854.7,"h":1856.0,"l":1852.3,"c":1852.9},
{"i":642,"o":1853.1,"h":1853.7,"l":1851.5,"c":1852.1},
{"i":643,"o":1852.3,"h":1852.9,"l":1848.7,"c":1849.3},
{"i":644,"o":1849.5,"h":1850.1,"l":1847.1,"c":1847.7},
{"i":645,"o":1847.7,"h":1848.3,"l":1845.9,"c":1846.5},
{"i":646,"o":1846.5,"h":1847.1,"l":1843.3,"c":1843.9},
{"i":647,"o":1843.9,"h":1845.8,"l":1843.0,"c":1845.2},
{"i":648,"o":1844.9,"h":1845.5,"l":1831.4,"c":1832.0},
{"i":649,"o":1832.0,"h":1832.6,"l":1811.0,"c":1820.2},
{"i":650,"o":1819.6,"h":1820.8,"l":1819.0,"c":1820.2},
{"i":651,"o":1819.8,"h":1827.5,"l":1819.2,"c":1826.7},
{"i":652,"o":1826.7,"h":1827.3,"l":1825.0,"c":1825.6},
{"i":653,"o":1825.6,"h":1826.2,"l":1822.2,"c":1822.8},
{"i":654,"o":1822.8,"h":1823.4,"l":1819.2,"c":1819.8},
{"i":655,"o":1819.8,"h":1822.3,"l":1819.2,"c":1821.7},
{"i":656,"o":1821.7,"h":1822.3,"l":1816.5,"c":1817.1},
{"i":657,"o":1818.3,"h":1818.9,"l":1811.5,"c":1812.6},
{"i":658,"o":1812.6,"h":1816.2,"l":1812.0,"c":1815.6},
{"i":659,"o":1815.6,"h":1819.5,"l":1815.0,"c":1818.3},
{"i":660,"o":1818.3,"h":1818.9,"l":1815.4,"c":1816.0},
{"i":661,"o":1816.0,"h":1816.6,"l":1813.9,"c":1814.5},
{"i":662,"o":1814.5,"h":1817.5,"l":1813.9,"c":1814.9},
{"i":663,"o":1814.9,"h":1815.5,"l":1812.0,"c":1812.6},
{"i":664,"o":1812.6,"h":1813.2,"l":1809.6,"c":1810.3},
{"i":665,"o":1810.3,"h":1816.6,"l":1809.7,"c":1816.0},
{"i":666,"o":1816.0,"h":1817.4,"l":1815.4,"c":1816.4},
{"i":667,"o":1816.4,"h":1817.0,"l":1814.6,"c":1815.2},
{"i":668,"o":1815.2,"h":1815.8,"l":1813.1,"c":1813.7},
{"i":669,"o":1813.7,"h":1814.3,"l":1800.5,"c":1801.1},
{"i":670,"o":1801.1,"h":1801.7,"l":1776.8,"c":1785.9},
{"i":671,"o":1785.9,"h":1793.0,"l":1785.3,"c":1792.4},
{"i":672,"o":1792.4,"h":1793.0,"l":1779.0,"c":1785.5},
{"i":673,"o":1785.5,"h":1793.0,"l":1784.9,"c":1792.4},
{"i":674,"o":1792.4,"h":1793.0,"l":1785.3,"c":1785.9},
{"i":675,"o":1785.9,"h":1789.9,"l":1784.0,"c":1789.3},
{"i":676,"o":1789.3,"h":1791.8,"l":1788.7,"c":1791.2},
{"i":677,"o":1791.2,"h":1791.8,"l":1788.7,"c":1789.3},
{"i":678,"o":1789.3,"h":1792.2,"l":1788.7,"c":1791.6},
{"i":679,"o":1791.6,"h":1792.2,"l":1786.8,"c":1787.4},
{"i":680,"o":1787.4,"h":1793.0,"l":1786.8,"c":1792.4},
{"i":681,"o":1792.4,"h":1793.0,"l":1791.0,"c":1791.6},
{"i":682,"o":1791.6,"h":1800.6,"l":1791.0,"c":1800.0},
{"i":683,"o":1800.0,"h":1807.0,"l":1799.4,"c":1800.8},
{"i":684,"o":1800.8,"h":1807.0,"l":1800.2,"c":1804.2},
{"i":685,"o":1804.2,"h":1804.8,"l":1798.3,"c":1798.9},
{"i":686,"o":1798.9,"h":1804.8,"l":1798.3,"c":1804.2},
{"i":687,"o":1804.2,"h":1804.8,"l":1797.9,"c":1798.5},
{"i":688,"o":1798.5,"h":1799.1,"l":1797.5,"c":1798.1},
{"i":689,"o":1798.1,"h":1799.5,"l":1797.5,"c":1798.9},
{"i":690,"o":1798.5,"h":1804.9,"l":1797.9,"c":1798.9},
{"i":691,"o":1798.9,"h":1799.5,"l":1785.5,"c":1790.9},
{"i":692,"o":1790.9,"h":1791.5,"l":1760.4,"c":1767.6},
{"i":693,"o":1767.6,"h":1775.5,"l":1767.0,"c":1774.9},
{"i":694,"o":1774.9,"h":1779.3,"l":1774.3,"c":1778.7},
{"i":695,"o":1778.0,"h":1780.0,"l":1777.4,"c":1779.4},
{"i":696,"o":1779.4,"h":1780.0,"l":1776.6,"c":1777.2},
{"i":697,"o":1777.2,"h":1779.3,"l":1776.6,"c":1778.7},
{"i":698,"o":1778.7,"h":1779.3,"l":1772.8,"c":1777.2},
{"i":699,"o":1777.2,"h":1778.9,"l":1776.6,"c":1778.3},
{"i":700,"o":1777.2,"h":1780.4,"l":1776.6,"c":1779.8},
{"i":701,"o":1779.8,"h":1785.3,"l":1779.2,"c":1782.9},
{"i":702,"o":1782.1,"h":1783.5,"l":1781.5,"c":1782.9},
{"i":703,"o":1782.9,"h":1783.5,"l":1781.5,"c":1782.1},
{"i":704,"o":1782.1,"h":1783.1,"l":1781.5,"c":1782.5},
{"i":705,"o":1782.5,"h":1783.5,"l":1781.5,"c":1782.9},
{"i":706,"o":1782.5,"h":1783.1,"l":1775.8,"c":1777.2},
{"i":707,"o":1777.2,"h":1785.0,"l":1776.6,"c":1784.4},
{"i":708,"o":1784.1,"h":1786.1,"l":1783.5,"c":1785.5},
{"i":709,"o":1785.2,"h":1786.9,"l":1784.6,"c":1786.3},
{"i":710,"o":1786.3,"h":1786.9,"l":1784.6,"c":1785.2},
{"i":711,"o":1785.2,"h":1786.9,"l":1784.6,"c":1786.3},
{"i":712,"o":1785.5,"h":1786.1,"l":1780.7,"c":1781.3},
{"i":713,"o":1781.3,"h":1789.9,"l":1780.7,"c":1789.3},
{"i":714,"o":1789.3,"h":1806.9,"l":1788.7,"c":1801.1},
{"i":715,"o":1801.1,"h":1801.7,"l":1799.8,"c":1800.4},
{"i":716,"o":1800.0,"h":1801.7,"l":1799.4,"c":1801.1},
{"i":717,"o":1801.1,"h":1801.7,"l":1797.1,"c":1797.7},
{"i":718,"o":1797.7,"h":1799.5,"l":1797.1,"c":1798.9},
{"i":719,"o":1798.9,"h":1799.5,"l":1797.1,"c":1797.7},
{"i":720,"o":1798.5,"h":1799.1,"l":1792.2,"c":1792.8},
{"i":721,"o":1792.8,"h":1793.4,"l":1785.5,"c":1790.1},
{"i":722,"o":1790.1,"h":1796.4,"l":1789.5,"c":1795.8},
{"i":723,"o":1795.5,"h":1797.2,"l":1794.9,"c":1796.6},
{"i":724,"o":1796.2,"h":1800.6,"l":1795.6,"c":1800.0},
{"i":725,"o":1799.6,"h":1802.5,"l":1799.0,"c":1801.9},
{"i":726,"o":1801.5,"h":1803.6,"l":1800.9,"c":1803.0},
{"i":727,"o":1802.7,"h":1805.5,"l":1802.1,"c":1804.9},
{"i":728,"o":1804.9,"h":1816.4,"l":1804.3,"c":1809.9},
{"i":729,"o":1809.9,"h":1810.5,"l":1807.0,"c":1807.6},
{"i":730,"o":1807.6,"h":1812.5,"l":1807.0,"c":1809.9},
{"i":731,"o":1809.9,"h":1810.5,"l":1807.8,"c":1808.4},
{"i":732,"o":1808.4,"h":1809.0,"l":1805.9,"c":1806.5},
{"i":733,"o":1806.5,"h":1807.5,"l":1805.9,"c":1806.9},
{"i":734,"o":1806.9,"h":1807.5,"l":1805.5,"c":1806.1},
{"i":735,"o":1806.1,"h":1807.1,"l":1805.5,"c":1806.5},
{"i":736,"o":1806.1,"h":1808.9,"l":1805.5,"c":1806.5},
{"i":737,"o":1806.5,"h":1807.1,"l":1804.0,"c":1804.6},
{"i":738,"o":1804.6,"h":1807.1,"l":1804.0,"c":1806.5},
{"i":739,"o":1806.1,"h":1806.7,"l":1803.6,"c":1804.2},
{"i":740,"o":1804.2,"h":1804.8,"l":1795.4,"c":1800.0},
{"i":741,"o":1800.0,"h":1802.5,"l":1799.4,"c":1801.9},
{"i":742,"o":1801.5,"h":1802.5,"l":1800.9,"c":1801.9},
{"i":743,"o":1800.4,"h":1803.3,"l":1799.8,"c":1802.7},
{"i":744,"o":1802.7,"h":1805.5,"l":1802.1,"c":1804.9},
{"i":745,"o":1804.9,"h":1807.8,"l":1804.3,"c":1806.9},
{"i":746,"o":1806.14,"h":1806.95,"l":1806.08,"c":1806.77}
],
"levels":[
{"p":1828.12,"lvl":"+2/8","name":"H4[5/8] H1[5/8] M30[+2/8]"},
{"p":1820.31,"lvl":"+1/8","name":"M30[+1/8]"},
{"p":1812.50,"lvl":"8/8","name":"D1[1/8] H4PIVOT H1PIVOT M30RES"},
{"p":1804.69,"lvl":"7/8","name":"M30[7/8]"},
{"p":1796.88,"lvl":"6/8","name":"H4[3/8] H1[3/8] M30[6/8]"},
{"p":1789.06,"lvl":"5/8","name":"M30[5/8]"},
{"p":1781.25,"lvl":"4/8","name":"H4[2/8] H1[2/8] M30PIVOT"},
{"p":1773.44,"lvl":"3/8","name":"M30[3/8]"},
{"p":1765.62,"lvl":"2/8","name":"H4[1/8] H1[1/8] M30[2/8]"},
{"p":1757.81,"lvl":"1/8","name":"M30[1/8]"},
{"p":1750.00,"lvl":"0/8","name":"D1SUP H4SUP H1SUP M30SUP"},
{"p":1742.19,"lvl":"-1/8","name":"M30[-1/8]"},
{"p":1734.38,"lvl":"-2/8","name":"H4[-1/8] H1[-1/8] M30[-2/8]"}
],
"bid":[{"p":1806.77}],
"crosses":[{"i":714,"p":1796.6},{"i":813,"p":1735.0}],
"header":[{"i":0.6,"p":1918.6,"txt":"▼\u00a0 ETHUSD,M30\u00a0 1806.14 1806.95 1806.08 1806.77"}]
},
"layer":[
{"data":{"name":"bars"},"mark":{"type":"rule","strokeWidth":1,"color":"black"},
 "encoding":{
  "x":{"field":"i","type":"quantitative","scale":{"domain":[-0.375,935.125],"nice":false,"zero":false},
   "axis":{"orient":"bottom","title":null,"values":[0,16,32,48,64,80,96,112,128,144,160,176,192,208,224,240,256,272,288,304,320,336,352,368,384,400,416,432,448,464,480,496,512,528,544,560,576,592,608,624,640,656,672,688,704,720,736,752,768,784,800,816,832,848,864,880,896,912,928],
    "grid":true,"gridColor":"#b4b4b4","gridDash":[3,3],"gridWidth":1,"domain":true,"domainColor":"black","ticks":true,"tickColor":"black","tickSize":5,
    "tickOpacity":{"condition":{"test":"datum.value % 32 === 0 && datum.value <= 736","value":1},"value":0},
    "labelExpr":"(datum.value % 32 === 0 && datum.value <= 736) ? ['10 May 2023','10 May 20:00','11 May 12:00','12 May 04:00','12 May 20:00','13 May 18:00','14 May 11:00','15 May 03:00','15 May 19:00','16 May 11:00','17 May 03:00','17 May 19:00','18 May 11:00','19 May 03:00','19 May 19:00','20 May 17:00','21 May 10:00','22 May 02:00','22 May 18:00','23 May 10:00','24 May 02:00','24 May 18:00','25 May 10:00','26 May 02:00'][datum.value / 32] : ''",
    "labelAlign":"left","labelBaseline":"top","labelPadding":3,"labelFont":"DejaVu Sans","labelFontSize":16,"labelColor":"black","labelOverlap":false,"labelBound":false,"labelFlush":false}},
  "y":{"field":"l","type":"quantitative","scale":{"domain":[1708.95,1921.3],"nice":false,"zero":false},
   "axis":{"orient":"right","title":null,"values":[1917.1,1910.1,1903.1,1896.0,1889.0,1881.9,1874.9,1867.8,1860.8,1853.7,1846.7,1839.7,1832.6,1825.6,1818.5,1811.5,1804.4,1797.4,1790.3,1783.3,1776.2,1769.2,1762.2,1755.1,1748.1,1741.0,1734.0,1726.9,1719.9,1712.8],"format":".2f","grid":true,"gridColor":"#b4b4b4","gridDash":[3,3],"gridWidth":1,"domain":true,"domainColor":"black","domainWidth":1,"ticks":true,"tickColor":"black","tickSize":5,"tickWidth":1,"labelPadding":6,"labelFont":"DejaVu Sans","labelFontSize":16,"labelColor":"black","labelOverlap":false,"labelBound":false,"labelFlush":false,"labelBaseline":"middle"}},
  "y2":{"field":"h"}
 }},
{"data":{"name":"levels"},"mark":{"type":"rule","strokeWidth":1},
 "encoding":{
  "y":{"field":"p","type":"quantitative","axis":{"title":null}},
  "color":{"field":"lvl","type":"nominal","legend":null,"scale":{"domain":["+2/8","+1/8","8/8","7/8","6/8","5/8","4/8","3/8","2/8","1/8","0/8","-1/8","-2/8"],"range":["#c71585","#ff00ff","#1e90ff","#ff8c00","#ff4500","#556b2f","#1e90ff","#556b2f","#ff4500","#ff8c00","#1e90ff","#ff00ff","#c71585"]}},
  "strokeDash":{"field":"lvl","type":"nominal","legend":null,"scale":{"domain":["+2/8","+1/8","8/8","7/8","6/8","5/8","4/8","3/8","2/8","1/8","0/8","-1/8","-2/8"],"range":[[20,9],[14,6,3,6],[1,0],[14,6,3,6],[20,9],[14,6,3,6],[20,9],[14,6,3,6],[20,9],[14,6,3,6],[1,0],[14,6,3,6],[20,9]]}}
 }},
{"data":{"name":"bid"},"mark":{"type":"rule","strokeWidth":1,"color":"#c0c0c0"},
 "encoding":{"y":{"field":"p","type":"quantitative","axis":{"title":null}}}},
{"data":{"name":"levels"},"mark":{"type":"text","align":"center","baseline":"top","dy":3,"font":"Liberation Sans","fontSize":21},
 "encoding":{
  "x":{"datum":720.25,"type":"quantitative","axis":{"title":null}},
  "y":{"field":"p","type":"quantitative","axis":{"title":null}},
  "text":{"field":"name"},
  "color":{"field":"lvl","type":"nominal","legend":null}
 }},
{"data":{"name":"bars"},"mark":{"type":"rule","strokeWidth":1,"color":"black"},
 "encoding":{
  "x":{"field":"i","type":"quantitative","axis":{"title":null}},
  "y":{"field":"l","type":"quantitative","axis":{"title":null}},
  "y2":{"field":"h"}
 }},
{"data":{"name":"bars"},"mark":{"type":"bar","size":2,"stroke":"black","strokeWidth":1},
 "encoding":{
  "x":{"field":"i","type":"quantitative","axis":{"title":null}},
  "y":{"field":"o","type":"quantitative","axis":{"title":null}},
  "y2":{"field":"c"},
  "fill":{"condition":{"test":"datum.c >= datum.o","value":"white"},"value":"black"}
 }},
{"data":{"name":"crosses"},"mark":{"type":"point","shape":"M-1,-1L1,1M1,-1L-1,1","filled":false,"size":1156,"strokeWidth":6,"strokeCap":"round","color":"#e53935","opacity":0.9},
 "encoding":{
  "x":{"field":"i","type":"quantitative","axis":{"title":null}},
  "y":{"field":"p","type":"quantitative","axis":{"title":null}}
 }},
{"data":{"name":"levels"},"mark":{"type":"tick","orient":"horizontal","size":82,"thickness":23,"opacity":1},
 "encoding":{
  "x":{"datum":946.2,"type":"quantitative","axis":{"title":null}},
  "y":{"field":"p","type":"quantitative","axis":{"title":null}},
  "color":{"field":"lvl","type":"nominal","legend":null}
 }},
{"data":{"name":"bid"},"mark":{"type":"tick","orient":"horizontal","size":82,"thickness":23,"opacity":1,"color":"black"},
 "encoding":{
  "x":{"datum":946.2,"type":"quantitative","axis":{"title":null}},
  "y":{"field":"p","type":"quantitative","axis":{"title":null}}
 }},
{"data":{"name":"levels"},"mark":{"type":"text","align":"left","baseline":"middle","font":"DejaVu Sans","fontSize":17,"color":"white"},
 "encoding":{
  "x":{"datum":937.9,"type":"quantitative","axis":{"title":null}},
  "y":{"field":"p","type":"quantitative","axis":{"title":null}},
  "text":{"field":"p","type":"quantitative","format":".2f"}
 }},
{"data":{"name":"bid"},"mark":{"type":"text","align":"left","baseline":"middle","font":"DejaVu Sans","fontSize":17,"color":"white"},
 "encoding":{
  "x":{"datum":937.9,"type":"quantitative","axis":{"title":null}},
  "y":{"field":"p","type":"quantitative","axis":{"title":null}},
  "text":{"field":"p","type":"quantitative","format":".2f"}
 }},
{"data":{"name":"header"},"mark":{"type":"text","align":"left","baseline":"alphabetic","font":"DejaVu Sans","fontSize":16,"color":"black"},
 "encoding":{
  "x":{"field":"i","type":"quantitative","axis":{"title":null}},
  "y":{"field":"p","type":"quantitative","axis":{"title":null}},
  "text":{"field":"txt"}
 }},
{"data":{"values":[{"k":"shift"}]},"mark":{"type":"point","shape":"triangle-down","filled":true,"size":160,"color":"#a0a0a0","opacity":1},
 "encoding":{
  "x":{"datum":747.5,"type":"quantitative","axis":{"title":null}},
  "y":{"datum":1921.3,"type":"quantitative","axis":{"title":null}}
 }}
]
}
